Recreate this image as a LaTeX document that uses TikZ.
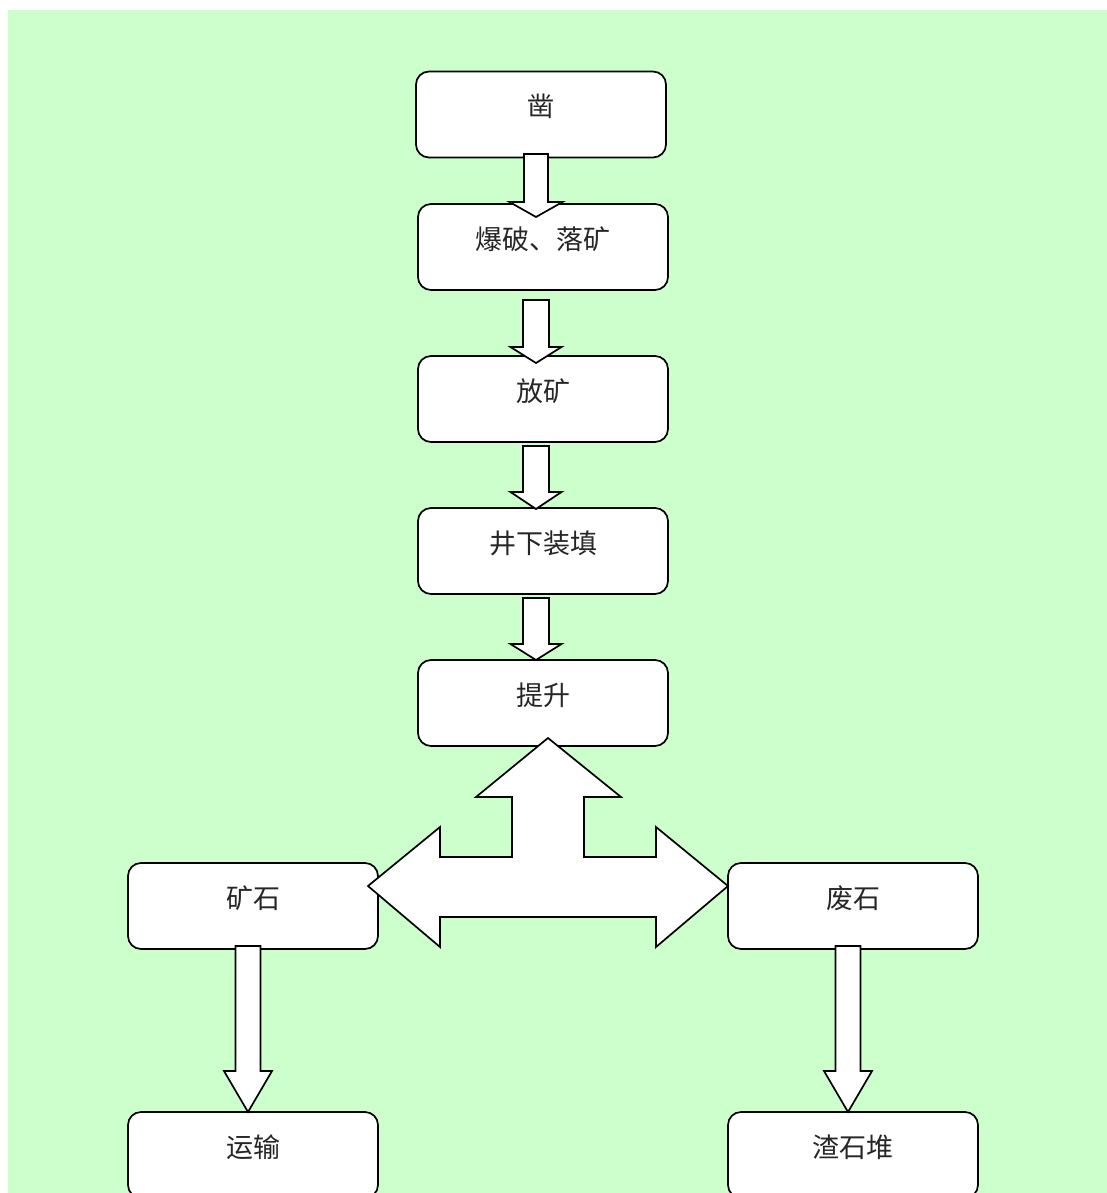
\documentclass[tikz,border=0pt]{standalone}
\usepackage{fontspec}
\newfontfamily\cjk{Noto Sans CJK SC}
\definecolor{bggreen}{HTML}{CCFFCC}
\newcommand\downblock[7]{% x, shaft half, head half, top, base, tip, name
  \draw[blockarrow] (#1-#2,#4) -- (#1+#2,#4) -- (#1+#2,#5) -- (#1+#3,#5) -- (#1,#6) -- (#1-#3,#5) -- (#1-#2,#5) -- cycle;}
\tikzset{
  box/.style={draw=black, line width=1.7pt, fill=white, rounded corners=13pt,
    minimum width=250pt, minimum height=86pt, inner sep=0pt,
    font=\cjk\fontsize{27}{31}\selectfont, text=black!85},
  blockarrow/.style={draw=black, line width=1.7pt, fill=white, line join=miter}
}
\newcommand\up[1]{\raisebox{8pt}[\height][\depth]{#1}}
\begin{document}
\begin{tikzpicture}[x=1pt,y=-1pt]
\useasboundingbox (0,0) rectangle (1107,1193);
\begin{scope}
\clip (0,0) rectangle (1107,1193);
\fill[bggreen] (8,10) rectangle (1107,1193);
\node[box] (zao) at (541,114.5) {\up{凿}};
\node[box] (baopo) at (543,247) {\up{爆破、落矿}};
\node[box] (fangkuang) at (543,399) {\up{放矿}};
\node[box] (jingxia) at (543,551) {\up{井下装填}};
\node[box] (tisheng) at (543,703) {\up{提升}};
\node[box] (kuangshi) at (253,906) {\up{矿石}};
\node[box] (feishi) at (853,906) {\up{废石}};
\node[box] (yunshu) at (253,1155) {\up{运输}};
\node[box] (zhashidui) at (853,1155) {\up{渣石堆}};
% vertical block arrows
\downblock{536}{12}{26.5}{154}{202}{217}{a1}
\downblock{536}{13}{25.5}{300}{347}{363}{a2}
\downblock{536}{13}{25.5}{446}{492}{509}{a3}
\downblock{536}{13}{25.5}{598}{644}{660}{a4}
\downblock{248}{12.5}{24}{946}{1071}{1112}{a5}
\downblock{848}{12.5}{24}{946}{1071}{1112}{a6}
% three-way block arrow
\draw[blockarrow] (548,738) -- (621,797) -- (584,797) -- (584,857) -- (656,857)
  -- (656,827) -- (728,886) -- (656,947) -- (656,917) -- (440,917) -- (440,947)
  -- (368,886) -- (440,827) -- (440,857) -- (512,857) -- (512,797) -- (476,797) -- cycle;
\end{scope}
\end{tikzpicture}
\end{document}
